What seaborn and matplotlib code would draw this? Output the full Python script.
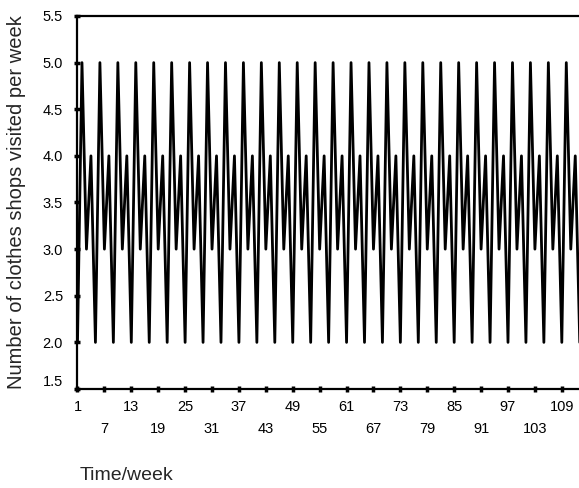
import matplotlib
matplotlib.use("Agg")
import matplotlib.pyplot as plt
import pandas as pd
import seaborn as sns

# weekly values (repeating 2, 5, 3, 4 pattern)
shops = [
    2, 5, 3, 4, 2, 5, 3, 4, 2, 5, 3, 4,
    2, 5, 3, 4, 2, 5, 3, 4, 2, 5, 3, 4,
    2, 5, 3, 4, 2, 5, 3, 4, 2, 5, 3, 4,
    2, 5, 3, 4, 2, 5, 3, 4, 2, 5, 3, 4,
    2, 5, 3, 4, 2, 5, 3, 4, 2, 5, 3, 4,
    2, 5, 3, 4, 2, 5, 3, 4, 2, 5, 3, 4,
    2, 5, 3, 4, 2, 5, 3, 4, 2, 5, 3, 4,
    2, 5, 3, 4, 2, 5, 3, 4, 2, 5, 3, 4,
    2, 5, 3, 4, 2, 5, 3, 4, 2, 5, 3, 4,
    2, 5, 3, 4, 2,
]
weeks = list(range(1, len(shops) + 1))

upper_ticks = [1, 13, 25, 37, 49, 61, 73, 85, 97, 109]
lower_ticks = [7, 19, 31, 43, 55, 67, 79, 91, 103]
y_ticks = [1.5, 2.0, 2.5, 3.0, 3.5, 4.0, 4.5, 5.0, 5.5]

df = pd.DataFrame({"week": weeks, "shops": shops})

sns.set_style("ticks")
plt.rcParams["font.family"] = ["Liberation Sans", "DejaVu Sans"]

fig = plt.figure(figsize=(5.79, 4.88), dpi=100)
ax = fig.add_axes([77 / 579, 1 - 389 / 488, 531 / 579, 373 / 488])

sns.lineplot(data=df, x="week", y="shops", color="black", linewidth=2.0, ax=ax)

ax.set_xlim(0.89, 119.3)
ax.set_ylim(1.5, 5.5)

ax.set_xticks(upper_ticks)
ax.set_xticklabels([str(t) for t in upper_ticks])
ax.set_xticks(lower_ticks, minor=True)
ax.set_xticklabels([str(t) for t in lower_ticks], minor=True)
ax.tick_params(axis="x", which="major", direction="inout", length=4, width=2.5,
               pad=6, labelsize=10.5, colors="black")
ax.tick_params(axis="x", which="minor", direction="inout", length=4, width=2.5,
               pad=22, labelsize=10.5, colors="black")

ax.set_yticks(y_ticks)
ax.set_yticklabels([f"{t:.1f}" for t in y_ticks])
ax.tick_params(axis="y", direction="inout", length=4, width=2.5, pad=8,
               labelsize=10.5, colors="black")
ax.get_yticklabels()[0].set_va("bottom")

for side in ["left", "bottom", "top"]:
    ax.spines[side].set_visible(True)
    ax.spines[side].set_color("black")
    ax.spines[side].set_linewidth(1.6)
ax.spines["right"].set_visible(False)

ax.set_xlabel("")
ax.set_ylabel("Number of clothes shops visited per week", fontsize=14.5)
ax.yaxis.set_label_coords(-0.096, 0.5)

fig.text(80 / 579, 1 - 475 / 488, "Time/week", fontsize=14,
         ha="left", va="center")

fig.savefig("out.png", dpi=100)
